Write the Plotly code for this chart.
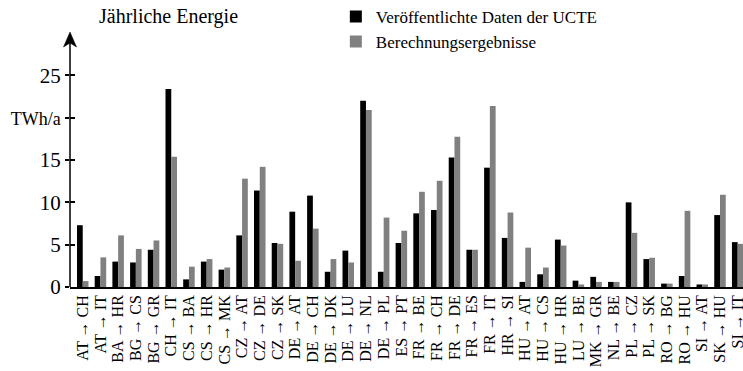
import plotly.graph_objects as go

categories = ["AT → CH", "AT → IT", "BA → HR", "BG → CS", "BG → GR", "CH → IT", "CS → BA",
              "CS → HR", "CS → MK", "CZ → AT", "CZ → DE", "CZ → SK", "DE → AT", "DE → CH",
              "DE → DK", "DE → LU", "DE → NL", "DE → PL", "ES → PT", "FR → BE", "FR → CH",
              "FR → DE", "FR → ES", "FR → IT", "HR → SI", "HU → AT", "HU → CS", "HU → HR",
              "LU → BE", "MK → GR", "NL → BE", "PL → CZ", "PL → SK", "RO → BG", "RO → HU",
              "SI → AT", "SK → HU", "SI → IT"]

ucte_values = [7.3, 1.3, 3.0, 2.9, 4.4, 23.4, 0.9, 3.0, 2.05, 6.1, 11.4, 5.2, 8.9, 10.8,
               1.8, 4.3, 22.0, 1.8, 5.2, 8.7, 9.1, 15.3, 4.4, 14.1, 5.8, 0.6, 1.5, 5.6,
               0.75, 1.2, 0.6, 10.0, 3.3, 0.4, 1.3, 0.3, 8.5, 5.3]

calc_values = [0.7, 3.5, 6.1, 4.5, 5.5, 15.4, 2.4, 3.3, 2.3, 12.8, 14.2, 5.1, 3.1, 6.9,
               3.3, 2.9, 20.9, 8.2, 6.65, 11.25, 12.55, 17.75, 4.4, 21.4, 8.8, 4.65, 2.3, 4.9,
               0.3, 0.6, 0.6, 6.4, 3.45, 0.4, 9.0, 0.3, 10.9, 5.1]

series_names = ["Veröffentlichte Daten der UCTE", "Berechnungsergebnisse"]
y_tickvals = [0, 5, 10, 15, 20, 25]
y_ticktext = ["0", "5", "10", "15", '<span style="font-size:18px">TWh/a</span>', "25"]
y_title = "Jährliche Energie"

FONT = "'Liberation Serif', 'DejaVu Serif', serif"
Y_TOP = 30.13

fig = go.Figure()
fig.add_trace(go.Bar(x=categories, y=ucte_values, name=series_names[0],
                     marker=dict(color="#000000", line=dict(width=0))))
fig.add_trace(go.Bar(x=categories, y=calc_values, name=series_names[1],
                     marker=dict(color="#808080", line=dict(width=0))))
fig.add_trace(go.Scatter(x=[], y=[], yaxis="y2", showlegend=False, hoverinfo="skip"))

fig.update_layout(
    width=743, height=371,
    margin=dict(l=70, r=0, t=32, b=84, autoexpand=False),
    paper_bgcolor="white", plot_bgcolor="white",
    font=dict(family=FONT, color="black", size=19),
    barmode="group", bargap=0.35, bargroupgap=0,
    legend=dict(x=0.395, xanchor="left", y=1.13, yanchor="top",
                font=dict(size=17, family=FONT), bgcolor="rgba(0,0,0,0)",
                tracegroupgap=0),
    xaxis=dict(type="category", range=[-0.72, 37.3], showgrid=False, zeroline=False,
               showline=True, linecolor="black", linewidth=1.5, ticks="",
               tickmode="array", tickvals=categories, ticktext=categories,
               tickangle=-90, tickfont=dict(size=16, family=FONT),
               ticklabelstandoff=0, automargin=False),
    yaxis=dict(range=[0, Y_TOP], showgrid=False, zeroline=False, showline=False,
               tickmode="array", tickvals=y_tickvals, ticktext=y_ticktext,
               ticks="outside", ticklen=4, tickwidth=1.5, tickcolor="black",
               tickfont=dict(size=21, family=FONT), automargin=False),
    yaxis2=dict(range=[0, Y_TOP], overlaying="y", side="left", showgrid=False,
                zeroline=False, showline=False, tickmode="array", tickvals=y_tickvals,
                ticks="inside", ticklen=5, tickwidth=1.5, tickcolor="black",
                showticklabels=False, automargin=False),
    showlegend=True,
)

# y axis line extending slightly below the x axis, with arrowhead on top
fig.add_shape(type="line", xref="paper", yref="y", x0=0, x1=0, y0=-0.65, y1=Y_TOP - 1.0,
              line=dict(color="black", width=1.5))
fig.add_shape(type="path", xref="paper", yref="paper", xsizemode="pixel", ysizemode="pixel",
              xanchor=0, yanchor=1, path="M 0,0 L -6.5,-15 L 0,-11 L 6.5,-15 Z",
              fillcolor="black", line=dict(color="black", width=0.5))

fig.add_annotation(text=y_title, xref="paper", yref="paper", x=0.04, y=1.059,
                   xanchor="left", yanchor="middle", showarrow=False,
                   font=dict(size=20, family=FONT))

fig.write_html("out.html", config={"displayModeBar": False},
               post_script="document.body.style.margin='0px';")
